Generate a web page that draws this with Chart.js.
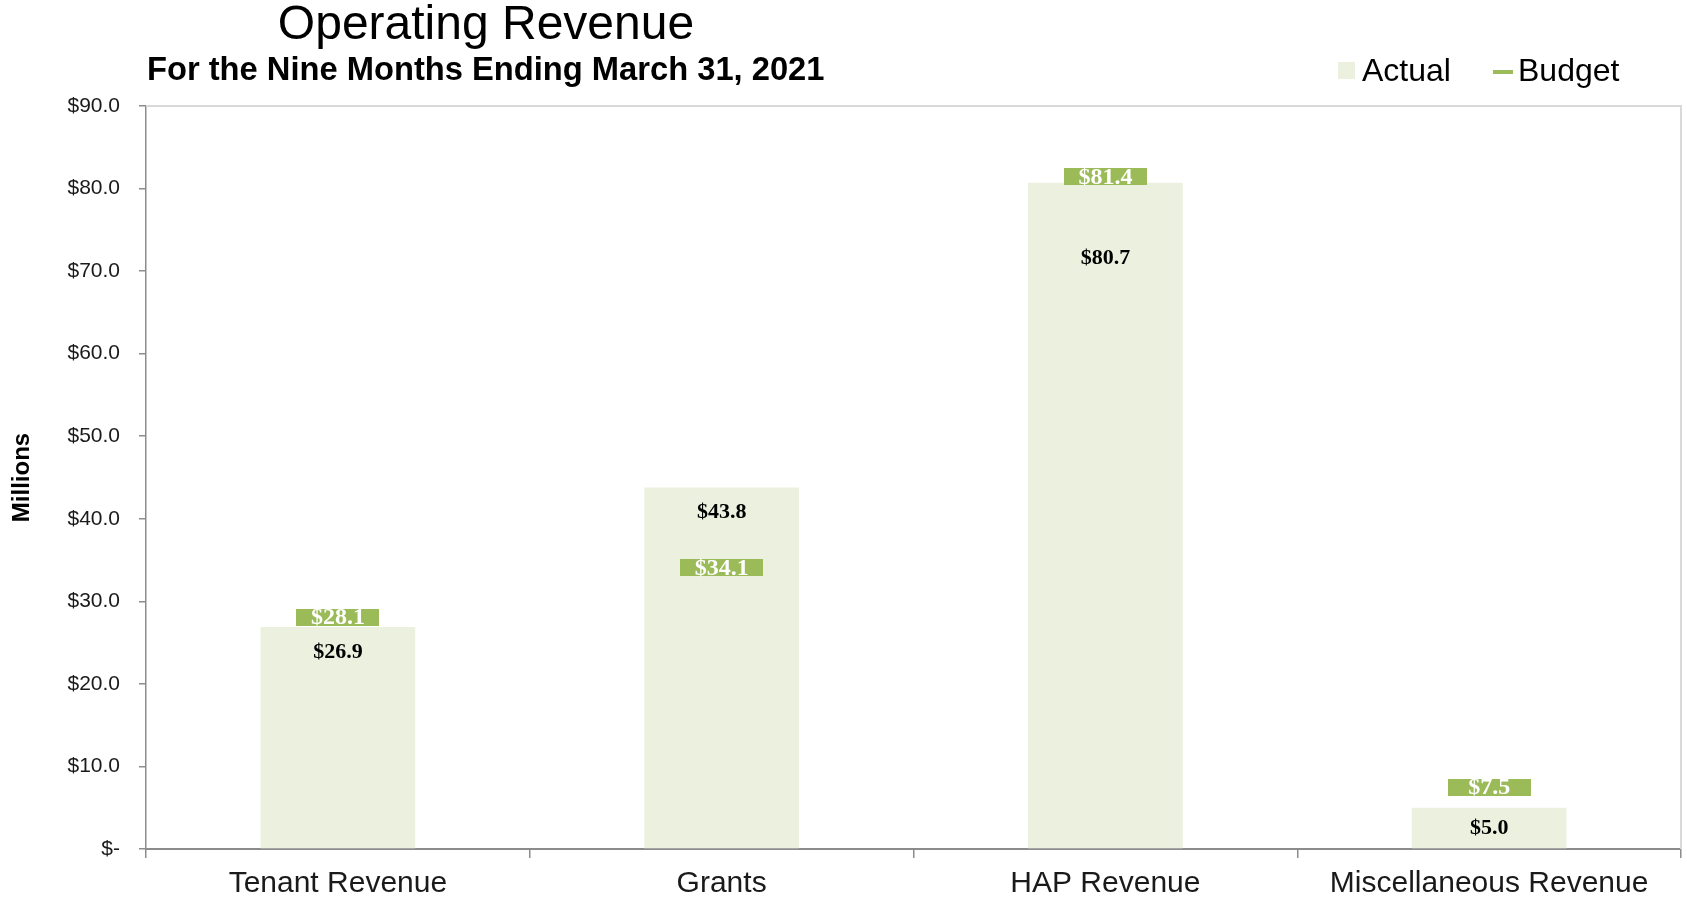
<!DOCTYPE html>
<html>
<head>
<meta charset="utf-8">
<title>Operating Revenue</title>
<script src="https://cdn.jsdelivr.net/npm/chart.js"></script>
<style>
  html, body { margin: 0; padding: 0; background: #fff; }
  #wrap { width: 1687px; height: 903px; position: relative; }
</style>
</head>
<body>
<div id="wrap"><canvas id="myChart"></canvas></div>
<script>
const categories = ['Tenant Revenue', 'Grants', 'HAP Revenue', 'Miscellaneous Revenue'];
const actual = [26.9, 43.8, 80.7, 5.0];
const budget = [28.1, 34.1, 81.4, 7.5];
const yTicks = [0, 10, 20, 30, 40, 50, 60, 70, 80, 90];

const sans = 'Liberation Sans, Arial, sans-serif';
const serif = 'Liberation Serif, Times New Roman, serif';
const actualColor = '#EBF1DE';
const budgetColor = '#9BBB59';
const axisColor = '#8c8c8c';

Chart.defaults.font.family = sans;
Chart.defaults.color = '#1a1a1a';

function money(v) {
  return v === 0 ? '$-' : '$' + v.toFixed(1);
}

// budget marker: a flat green box centred on the budget value
var marker = document.createElement('canvas');
marker.width = 83;
marker.height = 17;
var mctx = marker.getContext('2d');
mctx.fillStyle = budgetColor;
mctx.fillRect(0, 0, marker.width, marker.height);

// light frame on the top and right of the plot area
const frame = {
  id: 'frame',
  beforeDatasetsDraw(chart) {
    var a = chart.chartArea, c = chart.ctx;
    c.save();
    c.strokeStyle = '#d9d9d9';
    c.lineWidth = 2;
    c.beginPath();
    c.moveTo(a.left, a.top);
    c.lineTo(a.right, a.top);
    c.lineTo(a.right, a.bottom);
    c.stroke();
    c.restore();
  }
};

// value labels on the bars and on the budget boxes
const valueLabels = {
  id: 'valueLabels',
  afterDatasetsDraw(chart) {
    var c = chart.ctx;
    var bars = chart.getDatasetMeta(0).data;
    var points = chart.getDatasetMeta(1).data;
    var half = marker.height / 2;
    c.save();
    c.textAlign = 'center';
    c.textBaseline = 'middle';
    c.font = 'bold 22px ' + serif;
    bars.forEach(function(bar, i) {
      var top = bar.y;
      var drop = Math.min(25, (bar.base - top) / 2);
      var p = points[i];
      // push the label down when the budget box sits on the bar top
      if (p.y + half > top && p.y - half < top) drop = 76;
      c.fillStyle = '#000';
      c.fillText(money(actual[i]), bar.x, top + drop);
    });
    c.font = 'bold 24px ' + serif;
    points.forEach(function(p, i) {
      c.fillStyle = '#fff';
      c.fillText(money(budget[i]), p.x, p.y + 1);
    });
    c.restore();
  }
};

// headings and legend
const headings = {
  id: 'headings',
  afterDraw(chart) {
    var c = chart.ctx;
    c.save();
    c.fillStyle = '#000';
    c.textBaseline = 'middle';
    c.textAlign = 'center';
    c.font = '48px ' + sans;
    c.fillText('Operating Revenue', 486, 26);
    c.textAlign = 'left';
    c.font = 'bold 32.7px ' + sans;
    c.fillText('For the Nine Months Ending March 31, 2021', 147, 71);

    c.fillStyle = actualColor;
    c.fillRect(1338, 62, 17, 17);
    c.fillStyle = '#000';
    c.font = '32px ' + sans;
    c.fillText('Actual', 1362, 72);
    c.strokeStyle = budgetColor;
    c.lineWidth = 4;
    c.beginPath();
    c.moveTo(1493, 72);
    c.lineTo(1513, 72);
    c.stroke();
    c.fillText('Budget', 1518, 72);
    c.restore();
  }
};

const ctx = document.getElementById('myChart');

new Chart(ctx, {
  data: {
    labels: categories,
    datasets: [{
      type: 'bar',
      label: 'Actual',
      data: actual,
      backgroundColor: actualColor,
      categoryPercentage: 1,
      barPercentage: 0.403,
      order: 1
    }, {
      type: 'line',
      label: 'Budget',
      data: budget,
      showLine: false,
      pointStyle: marker,
      pointRadius: 5,
      order: 0
    }]
  },
  options: {
    responsive: true,
    maintainAspectRatio: false,
    animation: false,
    layout: {
      padding: { top: 106, right: 3, bottom: 0, left: 0 }
    },
    plugins: {
      legend: { display: false },
      tooltip: { enabled: false }
    },
    scales: {
      x: {
        grid: {
          offset: true,
          drawOnChartArea: false,
          drawTicks: true,
          tickLength: 9,
          color: axisColor,
          lineWidth: 1.5
        },
        border: { color: axisColor, width: 2 },
        ticks: {
          font: { size: 30 },
          color: '#1a1a1a',
          padding: 8,
          maxRotation: 0,
          autoSkip: false
        },
        afterFit(scale) { scale.height = 54; }
      },
      y: {
        min: 0,
        max: 90,
        afterBuildTicks(scale) {
          scale.ticks = yTicks.map(v => ({ value: v }));
        },
        grid: {
          drawOnChartArea: false,
          drawTicks: true,
          tickLength: 7,
          color: axisColor,
          lineWidth: 1.5
        },
        border: { color: axisColor, width: 1.5 },
        ticks: {
          font: { size: 21 },
          color: '#1a1a1a',
          padding: 19,
          callback: v => money(v)
        },
        title: {
          display: true,
          text: 'Millions',
          font: { size: 24, weight: 'bold' },
          color: '#000',
          padding: { top: 8, bottom: 0 }
        },
        afterFit(scale) { scale.width = 146; }
      }
    }
  },
  plugins: [frame, valueLabels, headings]
});
</script>
</body>
</html>
